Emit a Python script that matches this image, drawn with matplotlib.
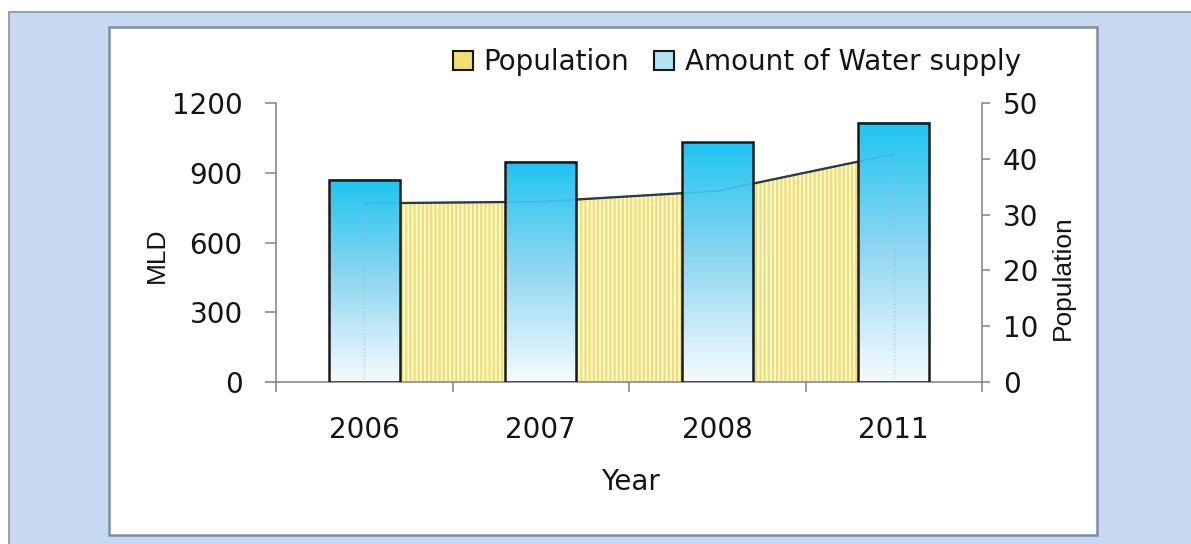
import numpy as np
import matplotlib
matplotlib.use('Agg')
import matplotlib.pyplot as plt
from matplotlib.patches import Rectangle, Patch
from matplotlib.colors import LinearSegmentedColormap

years = ['2006', '2007', '2008', '2011']
water_supply = [870, 945, 1030, 1115]
population = [32.0, 32.3, 34.2, 40.8]
mld_ticks = [0, 300, 600, 900, 1200]
pop_ticks = [0, 10, 20, 30, 40, 50]
legend_labels = ['Population', 'Amount of Water supply']

plt.rcParams['font.family'] = ['DejaVu Sans']
plt.rcParams['hatch.linewidth'] = 1.6

W, H = 1191, 544
fig = plt.figure(figsize=(W / 100, H / 100), dpi=100, facecolor='white')


def fx(px):
    return px / W


def fy(py):
    return 1 - py / H


outer = Rectangle((fx(8.5), -0.02), 1.05, fy(11.5) + 0.02, transform=fig.transFigure,
                  facecolor='#c7d9f0', edgecolor='#9aa3ad', lw=1.5, zorder=-10)
panel = Rectangle((fx(109), fy(535)), fx(1097) - fx(109), fy(27) - fy(535),
                  transform=fig.transFigure, facecolor='white', edgecolor='#7d8ea6',
                  lw=1.8, zorder=-9)
fig.patches.extend([outer, panel])

ax = fig.add_axes([fx(276), fy(382.3), fx(982) - fx(276), fy(102.7) - fy(382.3)])
ax2 = ax.twinx()
ax.set_zorder(2)
ax.patch.set_visible(False)

x = np.arange(len(years))

# population area (secondary axis, behind bars)
ax2.fill_between(x, population, 0, facecolor='#fdf9d4', edgecolor='#efdf72',
                 hatch='||||', lw=0, zorder=1)
ax2.plot(x, population, color='#1e1e1e', lw=1.6, zorder=2)
ax2.set_ylim(0, 50)

# water supply bars with gradient
cmap = LinearSegmentedColormap.from_list('g', ['#f6fbfe', '#92d7f2', '#1ec4f1'])
grad = np.linspace(0, 1, 256).reshape(-1, 1)
bars = ax.bar(x, water_supply, width=0.4, facecolor='none', edgecolor='#1a1a1a',
              lw=1.8, zorder=4)
for b in bars:
    x0, w, h = b.get_x(), b.get_width(), b.get_height()
    ax.imshow(grad, extent=[x0, x0 + w, 0, h], origin='lower', aspect='auto',
              cmap=cmap, zorder=3, interpolation='bilinear')

# faint outline of the area seen through the bars
ax.plot(x, population, transform=ax2.transData, color='#3d8fbf', alpha=0.3,
        lw=1.2, zorder=3.5)
for i in (0, len(x) - 1):
    ax.plot([x[i], x[i]], [0, population[i]], transform=ax2.transData,
            color='#9ab6c8', alpha=0.6, lw=1.0, ls=':', zorder=3.5)

ax.set_xlim(-0.5, 3.5)
ax.set_ylim(0, 1200)

grey = '#8a8a8a'
txt = '#141414'
for s in ['top', 'right']:
    ax.spines[s].set_visible(False)
for s in ['top', 'left', 'bottom']:
    ax2.spines[s].set_visible(False)
ax.spines['left'].set_color(grey)
ax.spines['bottom'].set_color(grey)
ax2.spines['right'].set_color(grey)
for sp in (ax.spines['left'], ax.spines['bottom'], ax2.spines['right']):
    sp.set_linewidth(1.2)

ax.set_yticks(mld_ticks)
ax.tick_params(axis='y', direction='out', length=8, width=1.2, color=grey, pad=16,
               labelsize=20, labelcolor=txt)
ax2.set_yticks(pop_ticks)
ax2.tick_params(axis='y', direction='out', length=6, width=1.2, color=grey, pad=9,
                labelsize=20, labelcolor=txt)
ax.set_xticks(x)
ax.set_xticklabels(years)
ax.tick_params(axis='x', which='major', length=0, pad=24, labelsize=20, labelcolor=txt)
ax.set_xticks(np.arange(-0.5, len(x), 1.0), minor=True)
ax.tick_params(axis='x', which='minor', direction='out', length=7, width=1.2, color=grey)

# legend
h_pop = Patch(facecolor='#efe070', edgecolor=txt, lw=1.5)
h_water = Patch(facecolor='#aee4f4', edgecolor=txt, lw=1.5)
leg = fig.legend([h_pop, h_water], legend_labels, loc='center',
                 bbox_to_anchor=(fx(737), fy(62)), ncol=2, frameon=False, fontsize=20,
                 handlelength=0.7, handleheight=0.7, handletextpad=0.4,
                 columnspacing=0.9, borderpad=0, borderaxespad=0)
for t in leg.get_texts():
    t.set_color(txt)

fig.text(fx(157), fy(255), 'MLD', rotation=90, ha='center', va='center', fontsize=19,
         family=['Liberation Sans', 'DejaVu Sans'], color=txt)
fig.text(fx(1063), fy(278), 'Population', rotation=90, ha='center', va='center',
         fontsize=19, family=['Liberation Sans', 'DejaVu Sans'], color=txt)
fig.text(fx(630), fy(490), 'Year', ha='center', va='baseline', fontsize=20, color=txt)

fig.savefig('out.png', dpi=100, facecolor=fig.get_facecolor())
